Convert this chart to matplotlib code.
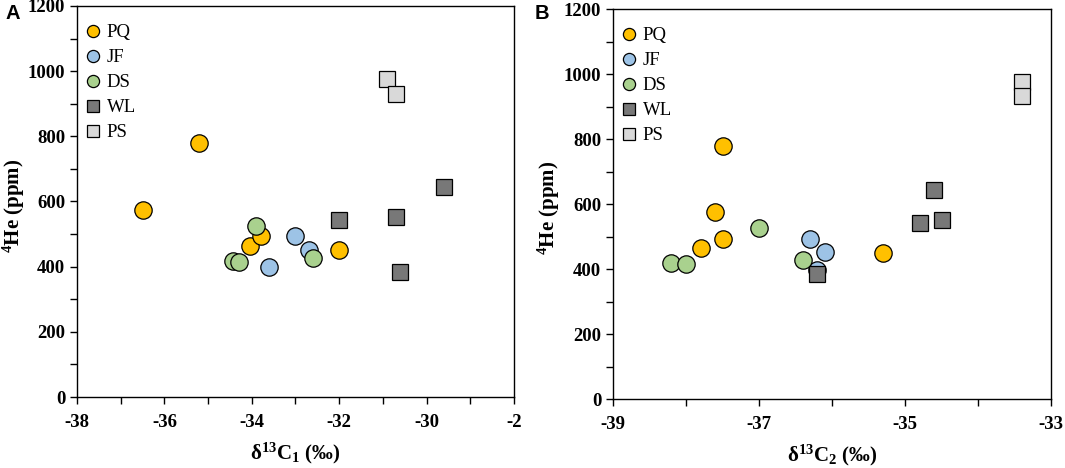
import numpy as np
import matplotlib.pyplot as plt
from matplotlib.ticker import MultipleLocator

plt.rcParams['font.family'] = ['Liberation Serif', 'DejaVu Serif']
plt.rcParams['mathtext.fontset'] = 'custom'
plt.rcParams['mathtext.rm'] = 'Liberation Serif:bold'
plt.rcParams['mathtext.it'] = 'Liberation Serif:bold'
plt.rcParams['mathtext.bf'] = 'Liberation Serif:bold'

groups = ['PQ', 'JF', 'DS', 'WL', 'PS']
colors = ['#FFC000', '#9DC3E6', '#A9D18E', '#787878', '#D9D9D9']
shapes = ['o', 'o', 'o', 's', 's']

# 4He (ppm) per group, same order in both panels
he = {
    'PQ': [574, 778, 464, 493, 450],
    'JF': [493, 452, 398],
    'DS': [525, 418, 415, 428],
    'WL': [542, 552, 644, 384],
    'PS': [977, 931],
}
# delta13C1 (permil)
c1 = {
    'PQ': [-36.5, -35.2, -34.03, -33.8, -32.0],
    'JF': [-33.0, -32.7, -33.6],
    'DS': [-33.9, -34.42, -34.3, -32.6],
    'WL': [-32.0, -30.7, -29.6, -30.6],
    'PS': [-30.9, -30.7],
}
# delta13C2 (permil)
c2 = {
    'PQ': [-37.6, -37.5, -37.8, -37.5, -35.3],
    'JF': [-36.3, -36.1, -36.2],
    'DS': [-37.0, -38.2, -38.0, -36.4],
    'WL': [-34.8, -34.5, -34.6, -36.2],
    'PS': [-33.4, -33.4],
}

c1_ticks = [-38, -36, -34, -32, -30, -28]
c1_labels = ['-38', '-36', '-34', '-32', '-30', '-2']
c2_ticks = [-39, -37, -35, -33]
c2_labels = ['-39', '-37', '-35', '-33']

fig = plt.figure(figsize=(10.65, 4.68), dpi=100)
axA = fig.add_axes([0.0723, 0.1517, 0.4103, 0.8355])
axB = fig.add_axes([0.5756, 0.1474, 0.4113, 0.8333])


def panel(ax, xdata, xlim, ticks, labels, xlabel, ylab_x):
    for g, col, m in zip(groups, colors, shapes):
        ms = 12.5 if m == 'o' else 12
        ax.plot(xdata[g], he[g], m, color=col, ms=ms, mec='black', mew=0.9,
                ls='none', label=g)
    ax.set_xlim(*xlim)
    ax.set_ylim(0, 1200)
    ax.set_xticks(ticks)
    ax.set_xticklabels(labels)
    ax.xaxis.set_minor_locator(MultipleLocator(1))
    ax.yaxis.set_major_locator(MultipleLocator(200))
    ax.yaxis.set_minor_locator(MultipleLocator(100))
    ax.tick_params(which='both', direction='out', top=False, right=False,
                   width=1, length=5, labelsize=13.5)
    ax.tick_params(axis='x', pad=7)
    for lab in ax.get_xticklabels() + ax.get_yticklabels():
        lab.set_fontweight('bold')
    for sp in ax.spines.values():
        sp.set_linewidth(1)
    ax.set_xlabel(xlabel, fontsize=15, fontweight='bold', labelpad=7)
    ax.set_ylabel('$^{4}$He (ppm)', fontsize=15, fontweight='bold')
    ax.yaxis.set_label_coords(ylab_x, 0.49)
    ax.legend(loc='upper left', bbox_to_anchor=(0.003, 0.973), frameon=False,
              fontsize=13.5, markerscale=0.7, handletextpad=0.31,
              labelspacing=0.42, borderaxespad=0, handlelength=0.8)


panel(axA, c1, (-38, -28), c1_ticks, c1_labels, 'δ$^{13}$C$_{1}$ (‰)', -0.114)
panel(axB, c2, (-39, -33), c2_ticks, c2_labels, 'δ$^{13}$C$_{2}$ (‰)', -0.117)

fig.text(5 / 1065, 1 - 4 / 468, 'A', fontsize=14.5, fontweight='bold',
         family='Liberation Sans', va='top', ha='left')
fig.text(535 / 1065, 1 - 4 / 468, 'B', fontsize=14.5, fontweight='bold',
         family='Liberation Sans', va='top', ha='left')

fig.savefig('out.png', dpi=100)
